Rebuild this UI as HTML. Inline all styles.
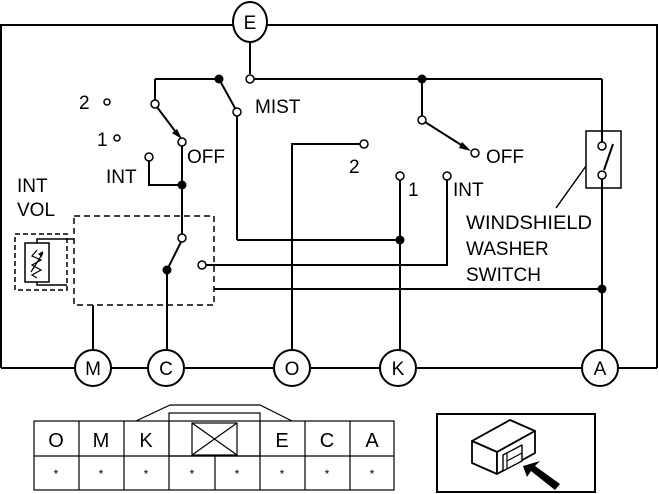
<!DOCTYPE html>
<html><head><meta charset="utf-8"><style>
html,body{margin:0;padding:0;background:#fff}
svg{display:block}
text{font-family:"Liberation Sans",Arial,sans-serif;fill:#000}
</style></head><body>
<svg width="659" height="494" viewBox="0 0 659 494" xmlns="http://www.w3.org/2000/svg">
<g fill="none" stroke="#000" stroke-width="2">
<polyline points="1,368 1,25 657,25 657,368"/>
<line x1="1" y1="368" x2="657" y2="368"/>
<line x1="250" y1="38" x2="250" y2="74"/>
<line x1="250" y1="79" x2="602" y2="79"/>
<line x1="155" y1="79" x2="219" y2="79"/>
<line x1="155" y1="79" x2="155" y2="100"/>
<line x1="157" y1="107" x2="178" y2="135"/>
<line x1="219" y1="79" x2="235" y2="108"/>
<line x1="237" y1="116" x2="237" y2="240"/>
<line x1="237" y1="240" x2="400" y2="240"/>
<line x1="182" y1="146" x2="182" y2="234"/>
<polyline points="149,161 149,185 182,185"/>
<line x1="181" y1="242" x2="167" y2="270"/>
<line x1="167" y1="270" x2="167" y2="350"/>
<line x1="206" y1="265" x2="443" y2="265"/>
<polyline points="447,180 447,265 443,265"/>
<line x1="214" y1="289" x2="602" y2="289"/>
<polyline points="292,350 292,144 360,144"/>
<line x1="400" y1="180" x2="400" y2="350"/>
<line x1="422" y1="79" x2="422" y2="116"/>
<line x1="425" y1="122" x2="466" y2="148"/>
<line x1="602" y1="79" x2="602" y2="142"/>
<line x1="602" y1="179" x2="602" y2="350"/>
<line x1="604" y1="170" x2="613" y2="144"/>
<rect x="586" y="131" width="35" height="57" stroke-width="1.5"/>
<line x1="586" y1="166" x2="556" y2="208" stroke-width="1.5"/>
<line x1="93" y1="305" x2="93" y2="350"/>
<rect x="74" y="216" width="140" height="89" stroke-dasharray="6,4" stroke-width="1.5"/>
<rect x="15" y="234" width="52" height="56" stroke-dasharray="5,3" stroke-width="1.5"/>
<rect x="25" y="243" width="24" height="39" stroke-width="1.5"/>
<polyline points="37,243 37,239 74,239" stroke-width="1.5"/>
<polyline points="37,282 37,285 67,285" stroke-width="1.5"/>
<polyline points="37,250 32,256 41,260 32,265 41,270 32,275 37,278" stroke-width="1.2"/>
<line x1="31" y1="272" x2="43" y2="253" stroke-width="1.2"/>
</g>
<polygon points="182,139 172,133 177,129" fill="#000"/>
<polygon points="471,151 459,148 462,142" fill="#000"/>
<polygon points="43,251 38,254 42,257" fill="#000"/>
<g fill="#fff" stroke="#000" stroke-width="1.5">
<circle cx="155" cy="104" r="4"/>
<circle cx="182" cy="142" r="4"/>
<circle cx="149" cy="157" r="4"/>
<circle cx="107" cy="102" r="3"/>
<circle cx="117" cy="138" r="3"/>
<circle cx="237" cy="112" r="4"/>
<circle cx="250" cy="79" r="4"/>
<circle cx="182" cy="238" r="4"/>
<circle cx="202" cy="265" r="4"/>
<circle cx="364" cy="144" r="4"/>
<circle cx="400" cy="176" r="4"/>
<circle cx="447" cy="176" r="4"/>
<circle cx="422" cy="120" r="4"/>
<circle cx="475" cy="153" r="4"/>
<circle cx="602" cy="146" r="4"/>
<circle cx="602" cy="175" r="4"/>
</g>
<g fill="#000">
<circle cx="219" cy="79" r="4.5"/>
<circle cx="422" cy="79" r="4.5"/>
<circle cx="182" cy="185" r="4.5"/>
<circle cx="167" cy="270" r="4.5"/>
<circle cx="400" cy="240" r="4.5"/>
<circle cx="602" cy="289" r="4.5"/>
</g>
<g fill="#fff" stroke="#000" stroke-width="2">
<ellipse cx="250" cy="22" rx="17" ry="20"/>
<circle cx="93" cy="368" r="18"/>
<circle cx="166" cy="368" r="18"/>
<circle cx="292" cy="368" r="18"/>
<circle cx="398" cy="368" r="18"/>
<circle cx="600" cy="368" r="18"/>
</g>
<g font-size="19" text-anchor="middle">
<text x="250" y="29">E</text>
<text x="93" y="375">M</text>
<text x="166" y="375">C</text>
<text x="292" y="375">O</text>
<text x="398" y="375">K</text>
<text x="600" y="375">A</text>
</g>
<g font-size="19">
<text x="79" y="109">2</text>
<text x="97" y="146">1</text>
<text x="255" y="113">MIST</text>
<text x="187" y="163">OFF</text>
<text x="106" y="183">INT</text>
<text x="17" y="192">INT</text>
<text x="17" y="216">VOL</text>
<text x="349" y="173">2</text>
<text x="408" y="196">1</text>
<text x="453" y="196">INT</text>
<text x="486" y="163">OFF</text>
<text x="466" y="229" textLength="126" lengthAdjust="spacingAndGlyphs">WINDSHIELD</text>
<text x="466" y="255">WASHER</text>
<text x="466" y="281">SWITCH</text>
</g>
<g fill="none" stroke="#000" stroke-width="1.2">
<polyline points="136,421 170,405 260,405 292,421"/>
<rect x="169" y="413" width="91" height="43" fill="#fff"/>
<rect x="34" y="421" width="360" height="69"/>
<line x1="34" y1="456" x2="394" y2="456"/>
<line x1="79" y1="421" x2="79" y2="490"/>
<line x1="124" y1="421" x2="124" y2="490"/>
<line x1="169" y1="421" x2="169" y2="490"/>
<line x1="215" y1="456" x2="215" y2="490"/>
<line x1="260" y1="421" x2="260" y2="490"/>
<line x1="305" y1="421" x2="305" y2="490"/>
<line x1="350" y1="421" x2="350" y2="490"/>
<rect x="192" y="423" width="45" height="32"/>
<line x1="192" y1="423" x2="237" y2="455"/>
<line x1="237" y1="423" x2="192" y2="455"/>
<rect x="437" y="414" width="158" height="78" stroke-width="2"/>
</g>
<g font-size="20" text-anchor="middle">
<text x="56" y="447">O</text><text x="101" y="447">M</text><text x="146" y="447">K</text>
<text x="282" y="447">E</text><text x="327" y="447">C</text><text x="372" y="447">A</text>
</g>
<g font-size="12" text-anchor="middle">
<text x="56" y="478">*</text><text x="101" y="478">*</text><text x="146" y="478">*</text><text x="192" y="478">*</text>
<text x="237" y="478">*</text><text x="282" y="478">*</text><text x="327" y="478">*</text><text x="372" y="478">*</text>
</g>
<g stroke="#000" stroke-width="1.8" fill="#fff" stroke-linejoin="round">
<polygon points="472,441 510,420 535,431 497,452"/>
<polygon points="472,441 497,452 497,474 472,463"/>
<polygon points="497,452 535,431 535,453 497,474"/>
<polygon points="503,455 522,445 522,461 503,471" stroke-width="1.4"/>
<line x1="507" y1="453" x2="507" y2="469" stroke-width="1.2"/>
<line x1="507" y1="461" x2="522" y2="453" stroke-width="1.2"/>
</g>
<polygon points="523,466 540,461 535,466 560,484 555,490 531,471 527,477" fill="#000"/>
</svg>
</body></html>
